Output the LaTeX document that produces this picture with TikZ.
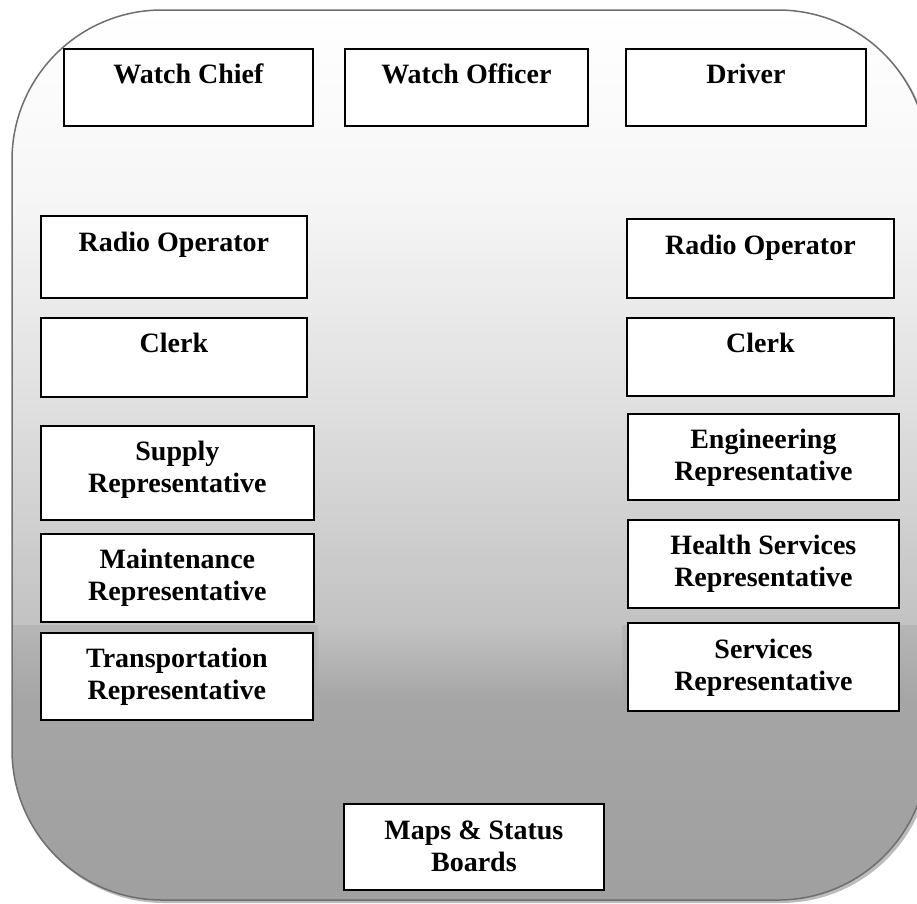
\documentclass[tikz,border=0pt]{standalone}
\usepackage{fontspec}
\setmainfont{Liberation Serif}
\definecolor{outl}{HTML}{6E6E6E}
\definecolor{shd}{HTML}{BCBCBC}
\definecolor{ga}{HTML}{F6F6F6}
\definecolor{gb}{HTML}{E0E0E0}
\definecolor{gc}{HTML}{C2C2C2}
\definecolor{gd}{HTML}{B6B6B6}
\definecolor{ge}{HTML}{A5A5A5}
\definecolor{gf}{HTML}{A0A0A0}
\definecolor{band}{HTML}{C2C2C2}
\begin{document}
\begin{tikzpicture}[x=1pt,y=-1pt,
  box/.style={draw=black, line width=1.8pt, fill=white, inner sep=0pt, anchor=north west},
  txt/.style={anchor=north, align=center, inner sep=0pt, font=\bfseries\fontsize{28}{32}\selectfont},
  frame/.style={rounded corners=150pt}]
\useasboundingbox (0,0) rectangle (917,903);
% shadow
\fill[shd, frame] (14,13) rectangle (931,903);
% gradient body
\begin{scope}
\clip[frame] (12,10) rectangle (928,900);
\shade[top color=white, bottom color=ga] (0,8) rectangle (930,201);
\shade[top color=ga, bottom color=gb] (0,200) rectangle (930,401);
\shade[top color=gb, bottom color=gc] (0,400) rectangle (930,626);
\shade[top color=gd, bottom color=ge] (0,625) rectangle (930,701);
\shade[top color=band, bottom color=ge] (318,625) rectangle (622,701);
\shade[top color=ge, bottom color=gf] (0,700) rectangle (930,902);
\end{scope}
\draw[outl, line width=1.5pt, frame] (12,10) rectangle (928,900);
% boxes
\node[box, minimum width=249pt, minimum height=77pt] (wc) at (63,48) {};
\node[box, minimum width=243pt, minimum height=77pt] (wo) at (344,48) {};
\node[box, minimum width=240pt, minimum height=77pt] (dr) at (625,48) {};
\node[box, minimum width=266pt, minimum height=82pt] (rl) at (40,215) {};
\node[box, minimum width=266pt, minimum height=79pt] (cl) at (40,317) {};
\node[box, minimum width=273pt, minimum height=94pt] (sup) at (40,425) {};
\node[box, minimum width=273pt, minimum height=88pt] (mai) at (40,533) {};
\node[box, minimum width=272pt, minimum height=87pt] (tra) at (40,632) {};
\node[box, minimum width=267pt, minimum height=79pt] (rr) at (626,218) {};
\node[box, minimum width=267pt, minimum height=78pt] (cr) at (626,317) {};
\node[box, minimum width=271pt, minimum height=86pt] (eng) at (627,413) {};
\node[box, minimum width=271pt, minimum height=88pt] (hea) at (627,519) {};
\node[box, minimum width=271pt, minimum height=88pt] (ser) at (627,622) {};
\node[box, minimum width=260pt, minimum height=86pt] (map) at (343,803) {};
% texts
\node[txt] (wct) at ([yshift=-13pt]wc.north) {\strut Watch Chief};
\node[txt] (wot) at ([yshift=-13pt]wo.north) {\strut Watch Officer};
\node[txt] (drt) at ([yshift=-13pt]dr.north) {\strut Driver};
\node[txt] (rlt) at ([yshift=-14pt]rl.north) {\strut Radio Operator};
\node[txt] (clt) at ([yshift=-13pt]cl.north) {\strut Clerk};
\node[txt] (supt) at ([yshift=-13pt]sup.north) {\strut Supply\\Representative};
\node[txt] (mait) at ([yshift=-13pt]mai.north) {\strut Maintenance\\Representative};
\node[txt] (trat) at ([yshift=-13pt]tra.north) {\strut Transportation\\Representative};
\node[txt] (rrt) at ([yshift=-14pt]rr.north) {\strut Radio Operator};
\node[txt] (crt) at ([yshift=-13pt]cr.north) {\strut Clerk};
\node[txt] (engt) at ([yshift=-13pt]eng.north) {\strut Engineering\\Representative};
\node[txt] (heat) at ([yshift=-13pt]hea.north) {\strut Health Services\\Representative};
\node[txt] (sert) at ([yshift=-14pt]ser.north) {\strut Services\\Representative};
\node[txt] (mapt) at ([yshift=-14pt]map.north) {\strut Maps \& Status\\Boards};
\end{tikzpicture}
\end{document}
